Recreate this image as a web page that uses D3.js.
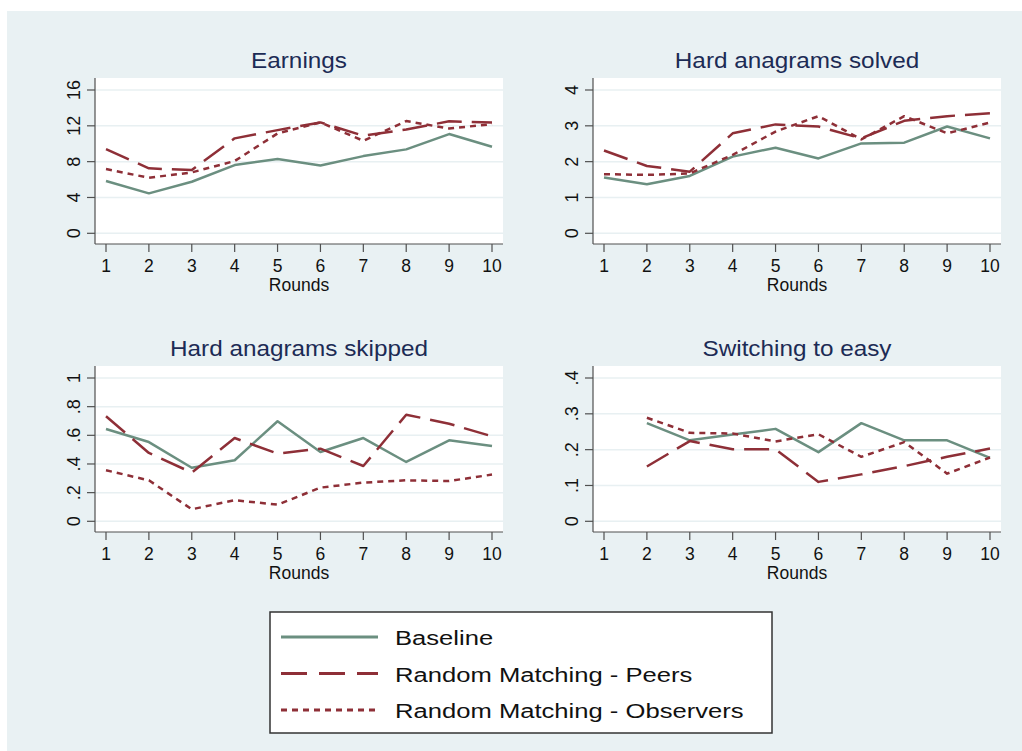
<!DOCTYPE html>
<meta charset="utf-8">
<style>
body { margin: 0; background: #fff; }
text { font-family: "Liberation Sans", Arial, sans-serif; }
.grid line { stroke: #e8f0f2; stroke-width: 1.5px; }
.axis path, .axis line { stroke: #505050; stroke-width: 1.2px; fill: none; }
.series { fill: none; stroke-width: 2.5px; stroke-linejoin: round; }
</style>
<svg></svg>
<script src="https://cdn.jsdelivr.net/npm/d3@7"></script>
<script>

var width = 1022,
    height = 751;

var rounds = [1, 2, 3, 4, 5, 6, 7, 8, 9, 10];

// values per round; null = not observed
var earnBase  = [5.84, 4.46, 5.76, 7.62, 8.29, 7.58, 8.62, 9.37, 11.08, 9.67],
    earnPeers = [9.4, 7.25, 7.06, 10.6, 11.52, 12.38, 10.9, 11.6, 12.5, 12.38],
    earnObs   = [7.17, 6.2, 6.8, 8.07, 11.15, 12.38, 10.33, 12.53, 11.7, 12.19];

var solvBase  = [1.56, 1.37, 1.6, 2.14, 2.39, 2.09, 2.51, 2.53, 2.98, 2.65],
    solvPeers = [2.31, 1.88, 1.72, 2.79, 3.04, 2.98, 2.65, 3.14, 3.27, 3.35],
    solvObs   = [1.65, 1.63, 1.67, 2.19, 2.84, 3.27, 2.62, 3.27, 2.79, 3.09];

var skipBase  = [0.644, 0.553, 0.374, 0.426, 0.698, 0.484, 0.581, 0.414, 0.565, 0.526],
    skipPeers = [0.733, 0.477, 0.34, 0.581, 0.472, 0.507, 0.386, 0.744, 0.681, 0.593],
    skipObs   = [0.356, 0.286, 0.084, 0.147, 0.116, 0.235, 0.27, 0.286, 0.281, 0.326];

var swBase  = [null, 0.274, 0.226, 0.242, 0.258, 0.193, 0.274, 0.226, 0.226, 0.177],
    swPeers = [null, 0.153, 0.224, 0.201, 0.201, 0.11, 0.131, 0.154, 0.18, 0.203],
    swObs   = [null, 0.289, 0.247, 0.245, 0.223, 0.243, 0.18, 0.221, 0.133, 0.178];

var titles = ["Earnings", "Hard anagrams solved", "Hard anagrams skipped", "Switching to easy"];

var earnTicks = [0, 4, 8, 12, 16],
    solvTicks = [0, 1, 2, 3, 4],
    skipTicks = [0, 0.2, 0.4, 0.6, 0.8, 1],
    swTicks   = [0, 0.1, 0.2, 0.3, 0.4];

var seriesNames = ["Baseline", "Random Matching - Peers", "Random Matching - Observers"];

var green = "#6b8f80",
    maroon = "#8e2f37";

var styles = [
  {color: green, dash: null},
  {color: maroon, dash: "25,10"},
  {color: maroon, dash: "6,5"}
];

function fmt(d) {
  // Stata style: drop leading zero
  var s = d3.format("~g")(d);
  return s.replace(/^0\./, ".");
}

var panels = [
  {title: titles[0], ticks: earnTicks, max: 16, data: [earnBase, earnPeers, earnObs], x: 95, y: 78},
  {title: titles[1], ticks: solvTicks, max: 4, data: [solvBase, solvPeers, solvObs], x: 593, y: 78},
  {title: titles[2], ticks: skipTicks, max: 1, data: [skipBase, skipPeers, skipObs], x: 95, y: 366},
  {title: titles[3], ticks: swTicks, max: 0.4, data: [swBase, swPeers, swObs], x: 593, y: 366}
];

var pw = 408, ph = 166;

var svg = d3.select("svg")
    .attr("width", width)
    .attr("height", height);

svg.append("rect")
    .attr("x", 7).attr("y", 11)
    .attr("width", width - 7).attr("height", height - 11)
    .attr("fill", "#e9f1f3");

panels.forEach(function(p) {
  var g = svg.append("g").attr("transform", "translate(" + p.x + "," + p.y + ")");

  var x = d3.scaleLinear().domain([1, 10]).range([11, 397]);
  var y = d3.scaleLinear().domain([0, p.max]).range([155.3, 12]);

  g.append("rect")
      .attr("width", pw).attr("height", ph)
      .attr("fill", "#fff");

  g.append("g").attr("class", "grid")
    .selectAll("line")
    .data(p.ticks)
    .enter().append("line")
      .attr("x1", 0).attr("x2", pw)
      .attr("y1", function(d) { return y(d); })
      .attr("y2", function(d) { return y(d); });

  var line = d3.line()
      .defined(function(d) { return d != null; })
      .x(function(d, i) { return x(rounds[i]); })
      .y(function(d) { return y(d); });

  p.data.forEach(function(vals, k) {
    g.append("path")
        .attr("class", "series")
        .attr("d", line(vals))
        .attr("stroke", styles[k].color)
        .attr("stroke-dasharray", styles[k].dash);
  });

  // left axis
  var ya = g.append("g").attr("class", "axis");
  ya.append("line").attr("x1", 0).attr("x2", 0).attr("y1", 0).attr("y2", ph);
  ya.selectAll(".tk").data(p.ticks).enter().append("line")
      .attr("x1", -8).attr("x2", 0)
      .attr("y1", function(d) { return y(d); })
      .attr("y2", function(d) { return y(d); });
  ya.selectAll("text").data(p.ticks).enter().append("text")
      .attr("transform", function(d) { return "translate(-15," + y(d) + ") rotate(-90)"; })
      .attr("text-anchor", "middle")
      .attr("font-size", 18)
      .attr("fill", "#111")
      .text(fmt);

  // bottom axis
  var xa = g.append("g").attr("class", "axis");
  xa.append("line").attr("x1", 0).attr("x2", pw).attr("y1", ph).attr("y2", ph);
  xa.selectAll(".tk").data(rounds).enter().append("line")
      .attr("x1", function(d) { return x(d); })
      .attr("x2", function(d) { return x(d); })
      .attr("y1", ph).attr("y2", ph + 8);
  xa.selectAll("text").data(rounds).enter().append("text")
      .attr("x", function(d) { return x(d); })
      .attr("y", ph + 28)
      .attr("text-anchor", "middle")
      .attr("font-size", 17.5)
      .attr("fill", "#111")
      .text(function(d) { return d; });

  g.append("text")
      .attr("x", 204).attr("y", ph + 46.5)
      .attr("text-anchor", "middle")
      .attr("font-size", 17.5)
      .attr("fill", "#111")
      .text("Rounds");

  g.append("text")
      .attr("transform", "translate(204,-10) scale(1.08,1)")
      .attr("text-anchor", "middle")
      .attr("font-size", 22.5)
      .attr("fill", "#1c2b55")
      .text(p.title);
});

// legend
var legend = svg.append("g").attr("transform", "translate(270,612)");

legend.append("rect")
    .attr("width", 502).attr("height", 121)
    .attr("fill", "#fff")
    .attr("stroke", "#333")
    .attr("stroke-width", 1.5);

var rows = legend.selectAll(".row")
    .data(seriesNames)
  .enter().append("g")
    .attr("transform", function(d, i) { return "translate(0," + (25 + i * 36.5) + ")"; });

rows.append("line")
    .attr("x1", 11).attr("x2", 108)
    .attr("stroke-width", 3)
    .attr("stroke", function(d, i) { return styles[i].color; })
    .attr("stroke-dasharray", function(d, i) { return i == 1 ? "26,12" : i == 2 ? "6,5" : null; });

rows.append("text")
    .attr("transform", "translate(125,8) scale(1.22,1)")
    .attr("font-size", 21)
    .attr("fill", "#111")
    .text(function(d) { return d; });

</script>
